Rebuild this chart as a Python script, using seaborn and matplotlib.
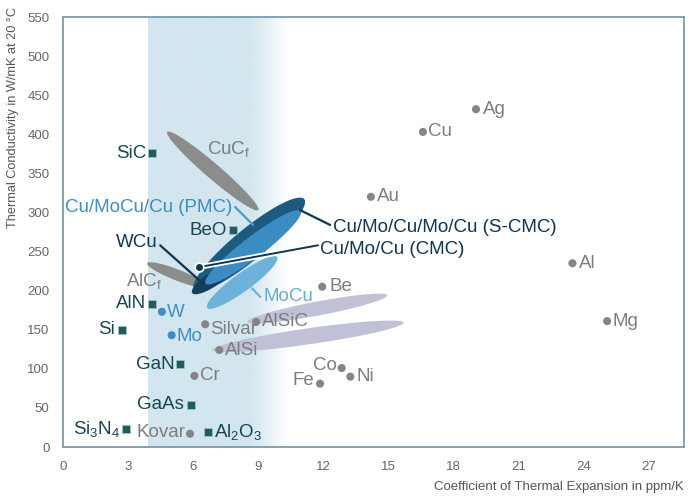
import numpy as np
import pandas as pd
import matplotlib
matplotlib.use("Agg")
import matplotlib.pyplot as plt
from matplotlib.patches import Polygon
import seaborn as sns

# === Data: (CTE in ppm/K, thermal conductivity in W/mK) ===
ceramic_names = ["SiC", "BeO", "AlN", "Si", "GaN", "GaAs",
                 "Si$_\\mathregular{3}$N$_\\mathregular{4}$",
                 "Al$_\\mathregular{2}$O$_\\mathregular{3}$"]
ceramic_cte = [4.1, 7.85, 4.1, 2.7, 5.4, 5.9, 2.9, 6.7]
ceramic_tc = [376, 277, 183, 150, 106, 54, 23, 19]

refractory_names = ["W", "Mo"]
refractory_cte = [4.55, 5.0]
refractory_tc = [173, 143]

metal_names = ["Silvar", "AlSiC", "AlSi", "Cr", "Kovar", "Be", "Co", "Fe", "Ni",
               "Au", "Cu", "Ag", "Al", "Mg"]
metal_cte = [6.55, 8.9, 7.2, 6.05, 5.85, 11.95, 12.85, 11.85, 13.25,
             14.2, 16.6, 19.05, 23.5, 25.1]
metal_tc = [157, 160, 124, 91, 17, 205, 101, 81, 90, 320, 403, 432, 235, 161]

# composite material regions, given by the two ends of each ellipse
blob_names = ["CuCf", "AlCf", "MoCu", "S-CMC", "WCu", "PMC", "AlSiC", "AlSi"]
blob_cte_lo = [4.8, 3.87, 6.64, 6.04, 5.95, 6.57, 8.5, 6.9]
blob_tc_lo = [403, 235, 178, 201, 197, 209, 160, 124]
blob_cte_hi = [9.0, 6.64, 9.87, 11.12, 7.7, 10.96, 14.95, 15.7]
blob_tc_hi = [303, 205, 243, 317, 229, 302, 194, 159]

# === Styles ===
blob_style = {
    "CuCf": ("#8c8c8c", 15, 2),
    "AlCf": ("#8c8c8c", 11, 2),
    "MoCu": ("#6db2da", 18, 3),
    "S-CMC": ("#1d5a80", 31, 4),
    "WCu": ("#113f5d", 14, 5),
    "PMC": ("#3a8cc3", 21, 6),
    "AlSiC": ("#c0c0d6", 14, 2),
    "AlSi": ("#c0c0d6", 16, 2),
}

# label offsets in pixels and alignment
ceramic_off = [(-6, 0, "right"), (-6, 0, "right"), (-6, 0, "right"), (-7, 0, "right"),
               (-6, 0, "right"), (-7, 0, "right"), (-6, 0, "right"), (6, 0, "left")]
refractory_off = [(5, -1, "left"), (5, -1, "left")]
metal_off = [(5, -5, "left"), (6, 0, "left"), (6, 0, "left"), (6, 0, "left"),
             (-5, 1, "right"), (7, 0, "left"), (-5, 3, "right"), (-6, 3, "right"),
             (6, 0, "left"), (6, 0, "left"), (5, 0, "left"), (7, 0, "left"),
             (7, 0, "left"), (5, 0, "left")]

teal = "#1d5d5d"
teal_text = "#17464f"
grey = "#858585"
grey_text = "#7d7d7d"
blue = "#3d8ec4"
navy = "#0f3550"
spine_col = "#7b9bab"

sns.set_style("white")
plt.rcParams["font.family"] = ["Liberation Sans", "DejaVu Sans"]
plt.rcParams["mathtext.fontset"] = "custom"
plt.rcParams["mathtext.rm"] = "Liberation Sans"
plt.rcParams["mathtext.it"] = "Liberation Sans"

fig = plt.figure(figsize=(7, 5.04), dpi=100)
ax = fig.add_axes([63.3 / 700, 57 / 504, 620.7 / 700, 430 / 504])
ax.set_xlim(0, 28.65)
ax.set_ylim(0, 550)

# === Shaded CTE band with fade to white ===
n = 400
band = np.zeros((1, n, 4))
band[..., 0:3] = matplotlib.colors.to_rgb("#d3e6ef")
xs = np.linspace(3.9, 10.4, n)
band[0, :, 3] = np.clip((10.4 - xs) / (10.4 - 8.6), 0, 1)
ax.imshow(band, extent=[3.9, 10.4, 0, 550], aspect="auto", zorder=0,
          interpolation="bilinear")


def blob(x0, y0, x1, y1, width_px, color, z):
    p0 = ax.transData.transform((x0, y0))
    p1 = ax.transData.transform((x1, y1))
    c = (p0 + p1) / 2
    d = p1 - p0
    length = np.hypot(*d)
    a = np.arctan2(d[1], d[0])
    t = np.linspace(0, 2 * np.pi, 160)
    u = length / 2 * np.cos(t)
    v = width_px / 2 * np.sin(t)
    pts = np.column_stack([c[0] + u * np.cos(a) - v * np.sin(a),
                           c[1] + u * np.sin(a) + v * np.cos(a)])
    ax.add_patch(Polygon(ax.transData.inverted().transform(pts), closed=True,
                         fc=color, ec="none", zorder=z))


for i, name in enumerate(blob_names):
    col, w, z = blob_style[name]
    blob(blob_cte_lo[i], blob_tc_lo[i], blob_cte_hi[i], blob_tc_hi[i], w, col, z)

# === Leader lines for composites ===
ax.plot([7.93, 8.76], [307, 284], color="#4c9cc8", lw=1.6, zorder=7)
ax.plot([4.47, 6.41], [258, 210], color=navy, lw=1.6, zorder=7)
ax.plot([10.93, 12.32], [303, 284], color=navy, lw=1.6, zorder=7)
ax.plot([8.71, 9.09], [203, 192], color="#6db2da", lw=1.6, zorder=7)
ax.plot([6.25, 11.76], [230, 258], color="white", lw=4, zorder=7, solid_capstyle="round")
ax.plot([6.25, 11.76], [230, 258], color=navy, lw=1.4, zorder=8)
ax.scatter([6.25], [230], s=40, color=navy, edgecolor="white", linewidth=1.3, zorder=9)

fs = 13.5
ax.text(7.79, 306, "Cu/MoCu/Cu (PMC)", color=blue, fontsize=fs, ha="right", va="center", zorder=10)
ax.text(4.33, 261, "WCu", color=navy, fontsize=fs, ha="right", va="center", zorder=10)
ax.text(12.45, 281, "Cu/Mo/Cu/Mo/Cu (S-CMC)", color=navy, fontsize=fs, ha="left", va="center", zorder=10)
ax.text(11.85, 253, "Cu/Mo/Cu (CMC)", color=navy, fontsize=fs, ha="left", va="center", zorder=10)
ax.text(9.22, 192, "MoCu", color="#67acd6", fontsize=fs, ha="left", va="center", zorder=10)
ax.text(4.55, 212, "AlC$_\\mathregular{f}$", color=grey_text, fontsize=fs, ha="right", va="center", zorder=10)
ax.text(6.62, 381, "CuC$_\\mathregular{f}$", color=grey_text, fontsize=fs, ha="left", va="center", zorder=10)

# === Points ===
ceramics = pd.DataFrame({"cte": ceramic_cte, "tc": ceramic_tc})
refractory = pd.DataFrame({"cte": refractory_cte, "tc": refractory_tc})
metals = pd.DataFrame({"cte": metal_cte, "tc": metal_tc})

sns.scatterplot(data=ceramics, x="cte", y="tc", marker="s", s=40, color=teal,
                edgecolor="#9fc0c0", linewidth=0.6, ax=ax, zorder=11)
sns.scatterplot(data=refractory, x="cte", y="tc", marker="o", s=34, color=blue,
                edgecolor="none", ax=ax, zorder=11)
sns.scatterplot(data=metals, x="cte", y="tc", marker="o", s=34, color=grey,
                edgecolor="none", ax=ax, zorder=11)


def label_points(names, xs, ys, offs, color):
    for nm, x, y, (dx, dy, ha) in zip(names, xs, ys, offs):
        ax.annotate(nm, (x, y), xytext=(dx, dy), textcoords="offset pixels",
                    ha=ha, va="center", color=color, fontsize=fs, zorder=12)


label_points(ceramic_names, ceramic_cte, ceramic_tc, ceramic_off, teal_text)
label_points(refractory_names, refractory_cte, refractory_tc, refractory_off, blue)
label_points(metal_names, metal_cte, metal_tc, metal_off, grey_text)

# === Axes styling ===
ax.set_xticks(range(0, 28, 3))
ax.set_yticks(range(0, 551, 50))
ax.tick_params(direction="out", length=7, width=1, color="#a9b9c2",
               labelcolor="#666666", labelsize=9.5, pad=3)
for sp in ax.spines.values():
    sp.set_visible(True)
    sp.set_color(spine_col)
    sp.set_linewidth(1.3)
ax.set_xlabel("Coefficient of Thermal Expansion in ppm/K", loc="right",
              fontsize=9.5, color="#555555", labelpad=6)
ax.set_ylabel("")
fig.text(13 / 700, 1 - 7 / 504, "Thermal Conductivity in W/mK at 20 °C",
         rotation=90, ha="center", va="top", fontsize=9.2, color="#555555")
ax.grid(False)

fig.savefig("out.png", dpi=100)
